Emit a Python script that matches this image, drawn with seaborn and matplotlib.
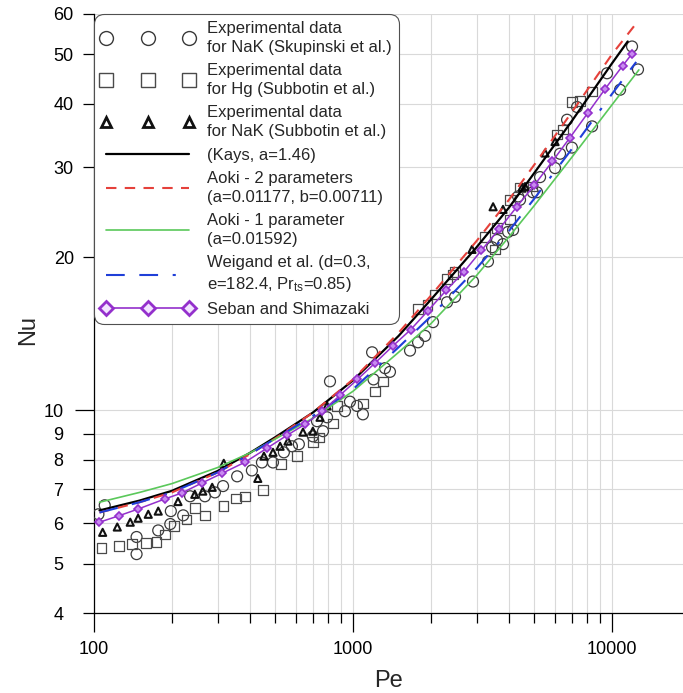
import numpy as np
import pandas as pd
import seaborn as sns
import matplotlib.pyplot as plt
from matplotlib.lines import Line2D
from matplotlib.ticker import FixedLocator, FixedFormatter, NullFormatter

## Experimental data for NaK (Skupinski et al.) - circles
skup_pe = [104, 110, 146, 146, 177, 197, 198, 221, 235, 268, 293, 315, 357, 407, 445, 491,
           541, 581, 618, 700, 726, 766, 794, 815, 931, 973, 1036, 1092, 1185, 1200, 1329,
           1389, 1660, 1783, 1897, 2037, 2307, 2477, 2907, 3320, 3444, 3600, 3795, 3970,
           4150, 4340, 4415, 4945, 5135, 5275, 6027, 6301, 6707, 7000, 7330, 8375, 9571,
           10742, 11950, 12600]
skup_nu = [6.25, 6.51, 5.64, 5.22, 5.81, 5.98, 6.34, 6.22, 6.78, 6.78, 6.90, 7.10, 7.42, 7.62,
           7.90, 7.90, 8.27, 8.50, 8.58, 8.89, 9.52, 9.10, 9.69, 11.4, 9.96, 10.4, 10.2, 9.82,
           13.0, 11.5, 12.1, 11.9, 13.1, 13.6, 14.0, 14.9, 16.3, 16.7, 17.9, 19.6, 20.9, 21.6,
           21.2, 22.4, 22.6, 26.3, 25.9, 26.8, 26.8, 28.7, 29.9, 31.9, 37.2, 32.8, 39.4, 36.1,
           45.9, 42.6, 51.8, 46.7]

## Experimental data for Hg (Subbotin et al.) - squares
hg_pe = [107, 125, 140, 159, 174, 188, 204, 228, 245, 268, 317, 353, 383, 449, 527, 608, 700,
         739, 837, 868, 1092, 1216, 1306, 1783, 1935, 2073, 2307, 2434, 2477, 3234, 3535,
         3600, 4040, 4040, 4415, 4945, 6138, 6470, 7000, 7527, 8375]
hg_nu = [5.37, 5.41, 5.46, 5.49, 5.51, 5.71, 5.93, 6.11, 6.43, 6.22, 6.49, 6.72, 6.78, 6.97,
         7.84, 8.14, 8.66, 8.85, 9.43, 10.2, 10.3, 10.9, 11.4, 15.8, 16.1, 16.9, 18.1, 18.5,
         18.7, 21.9, 20.7, 22.8, 25.9, 23.7, 27.4, 27.5, 34.8, 35.6, 40.3, 40.5, 42.3]

## Experimental data for NaK (Subbotin et al.) - triangles
nak_pe = [108, 123, 138, 148, 162, 177, 211, 245, 263, 286, 317, 429, 453, 491, 523, 561,
          641, 700, 746, 794, 2880, 3475, 3795, 4495, 4616, 5515, 6027]
nak_nu = [5.76, 5.90, 6.03, 6.14, 6.25, 6.34, 6.62, 6.84, 6.94, 7.06, 7.87, 7.35, 8.13, 8.27,
          8.50, 8.70, 9.06, 9.10, 9.69, 10.2, 20.7, 25.1, 24.8, 27.4, 27.5, 32.0, 33.7]

## Correlations
kays_pe = [105, 150, 200, 300, 400, 500, 700, 1000, 1500, 2000, 3000, 4000, 5000, 7000, 10000, 11500]
kays_nu = [6.36, 6.65, 6.95, 7.6, 8.25, 8.85, 9.9, 11.45, 14.0, 16.5, 20.9, 25.0, 29.2, 37.0, 48.0, 53.0]

aoki2_pe = [105, 150, 200, 300, 400, 500, 700, 1000, 1500, 2000, 3000, 4000, 5000, 7000, 10000, 12400]
aoki2_nu = [6.3, 6.6, 6.9, 7.55, 8.2, 8.8, 9.9, 11.5, 14.2, 16.8, 21.5, 25.9, 30.3, 38.5, 50.0, 57.5]

aoki1_pe = [105, 150, 200, 300, 400, 500, 700, 1000, 1500, 2000, 3000, 4000, 5000, 7000, 10000, 12700]
aoki1_nu = [6.6, 6.9, 7.18, 7.72, 8.25, 8.78, 9.65, 10.9, 13.0, 14.8, 18.4, 21.9, 25.2, 31.4, 39.8, 46.6]

weig_pe = [105, 150, 200, 300, 400, 500, 700, 1000, 1500, 2000, 3000, 4000, 5000, 7000, 10000, 12400]
weig_nu = [6.3, 6.6, 6.9, 7.55, 8.2, 8.8, 9.75, 11.0, 13.3, 15.3, 19.0, 22.5, 26.0, 32.6, 41.8, 48.3]

seban_pe = [105, 125, 148, 188, 218, 261, 312, 383, 466, 556, 653, 761, 890, 1040, 1220, 1430,
            1670, 1950, 2290, 2680, 3130, 3670, 4290, 5020, 5880, 6880, 8050, 9420, 11000, 11900]
seban_nu = [6.03, 6.21, 6.40, 6.70, 6.88, 7.20, 7.52, 7.91, 8.43, 8.93, 9.39, 9.95, 10.7, 11.5,
            12.4, 13.4, 14.4, 15.7, 17.2, 18.7, 20.6, 22.7, 25.1, 27.7, 30.8, 34.3, 38.3, 42.8,
            47.5, 50.0]

labels = ["Experimental data\nfor NaK (Skupinski et al.)",
          "Experimental data\nfor Hg (Subbotin et al.)",
          "Experimental data\nfor NaK (Subbotin et al.)",
          "(Kays, a=1.46)",
          "Aoki - 2 parameters\n(a=0.01177, b=0.00711)",
          "Aoki - 1 parameter\n(a=0.01592)",
          "Weigand et al. (d=0.3,\ne=182.4, Pr$_{\\mathrm{ts}}$=0.85)",
          "Seban and Shimazaki"]

sns.set_style("ticks")
plt.rcParams['font.family'] = ['Liberation Sans', 'DejaVu Sans']
plt.rcParams['mathtext.fontset'] = 'custom'
plt.rcParams['mathtext.rm'] = 'Liberation Sans'
plt.rcParams['mathtext.it'] = 'Liberation Sans:italic'

RED = '#e5413b'
GREEN = '#5ac85a'
BLUE = '#1f3fd8'
PURPLE = '#9430cc'

fig = plt.figure(figsize=(6.83, 6.93), dpi=100)
ax = fig.add_axes([94 / 683, 80 / 693, 589 / 683, 599 / 693])
ax.set_xscale('log')
ax.set_yscale('log')

## scatter data
sns.scatterplot(x=skup_pe, y=skup_nu, ax=ax, marker='o', s=62, facecolor='none',
                edgecolor='#3a3a3a', linewidth=0.9, zorder=3)
sns.scatterplot(x=hg_pe, y=hg_nu, ax=ax, marker='s', s=46, facecolor='none',
                edgecolor='#4a4a4a', linewidth=0.9, zorder=3)
sns.scatterplot(x=nak_pe, y=nak_nu, ax=ax, marker='^', s=26, facecolor='none',
                edgecolor='#111111', linewidth=1.5, zorder=3)

## correlation lines
sns.lineplot(x=kays_pe, y=kays_nu, ax=ax, color='black', lw=1.6, estimator=None, sort=False, zorder=4)
sns.lineplot(x=aoki2_pe, y=aoki2_nu, ax=ax, color=RED, lw=1.5, estimator=None, sort=False, zorder=4)
ax.lines[-1].set_dashes((5, 4))
sns.lineplot(x=aoki1_pe, y=aoki1_nu, ax=ax, color=GREEN, lw=1.2, estimator=None, sort=False, zorder=4)
sns.lineplot(x=weig_pe, y=weig_nu, ax=ax, color=BLUE, lw=1.5, estimator=None, sort=False, zorder=4)
ax.lines[-1].set_dashes((9, 7, 9, 7, 1.5, 7))
sns.lineplot(x=seban_pe, y=seban_nu, ax=ax, color=PURPLE, lw=1.1, marker='D', markersize=4.5,
             markerfacecolor='#c88af0', markeredgecolor=PURPLE, markeredgewidth=1.2,
             estimator=None, sort=False, zorder=5)

## axes
ax.set_xlim(100, 10 ** (2 + 589 / 259))
ax.set_ylim(4, 60)

ax.xaxis.set_major_locator(FixedLocator([100, 1000, 10000]))
ax.xaxis.set_major_formatter(FixedFormatter(['100', '1000', '10000']))
xminor = [k * 10 ** e for e in (2, 3) for k in range(2, 10)]
ax.xaxis.set_minor_locator(FixedLocator(xminor))
ax.xaxis.set_minor_formatter(NullFormatter())

ax.yaxis.set_major_locator(FixedLocator([10]))
ax.yaxis.set_major_formatter(FixedFormatter(['10']))
yminor = [4, 5, 6, 7, 8, 9, 20, 30, 40, 50, 60]
ax.yaxis.set_minor_locator(FixedLocator(yminor))
ax.yaxis.set_minor_formatter(FixedFormatter([str(v) for v in yminor]))

ax.tick_params(axis='both', which='both', direction='out', width=0.9, colors='black',
               labelsize=13)
ax.tick_params(axis='x', which='major', length=14, pad=6.5)
ax.tick_params(axis='x', which='minor', length=7)
ax.tick_params(axis='y', which='major', length=14, pad=8)
ax.tick_params(axis='y', which='minor', length=8, pad=6.5)
# labels below 10 sit further from the axis than the 20..60 ones
for tick, v in zip(ax.yaxis.get_minor_ticks(), yminor):
    if v < 10:
        tick.set_pad(14)

ax.grid(which='both', color='#d9d9d9', lw=0.8, zorder=0)
ax.set_axisbelow(True)
sns.despine(ax=ax)
for s in ('left', 'bottom'):
    ax.spines[s].set_linewidth(0.9)
    ax.spines[s].set_color('black')

ax.set_xlabel("Pe", fontsize=17, labelpad=8)
ax.set_ylabel("Nu", fontsize=17)
ax.yaxis.set_label_coords(-0.094, 0.472)

## legend
handles = [
    Line2D([], [], ls='none', marker='o', ms=10, mfc='none', mec='#3a3a3a', mew=1.0),
    Line2D([], [], ls='none', marker='s', ms=10, mfc='none', mec='#4a4a4a', mew=1.0),
    Line2D([], [], ls='none', marker='^', ms=7.5, mfc='none', mec='#111111', mew=2.0),
    Line2D([], [], color='black', lw=1.6),
    Line2D([], [], color=RED, lw=1.5, dashes=(5, 4)),
    Line2D([], [], color=GREEN, lw=1.2),
    Line2D([], [], color=BLUE, lw=1.5, dashes=(9, 7, 9, 7, 1.5, 7)),
    Line2D([], [], color=PURPLE, lw=1.2, marker='D', ms=7.5, mfc='#f2e4ff', mec=PURPLE, mew=2.0),
]
leg = ax.legend(handles, labels, loc='upper left', bbox_to_anchor=(0, 1), borderaxespad=0,
                fontsize=12, numpoints=3, handlelength=5.6, handletextpad=0.78,
                labelspacing=0.5, borderpad=0.42, framealpha=1, edgecolor='#505050',
                fancybox=True)
leg.get_frame().set_boxstyle('round,pad=0,rounding_size=0.6')
leg.get_frame().set_linewidth(0.8)
for t in leg.get_texts():
    t.set_linespacing(1.32)
leg.set_zorder(10)

fig.savefig("out.png", dpi=100)
